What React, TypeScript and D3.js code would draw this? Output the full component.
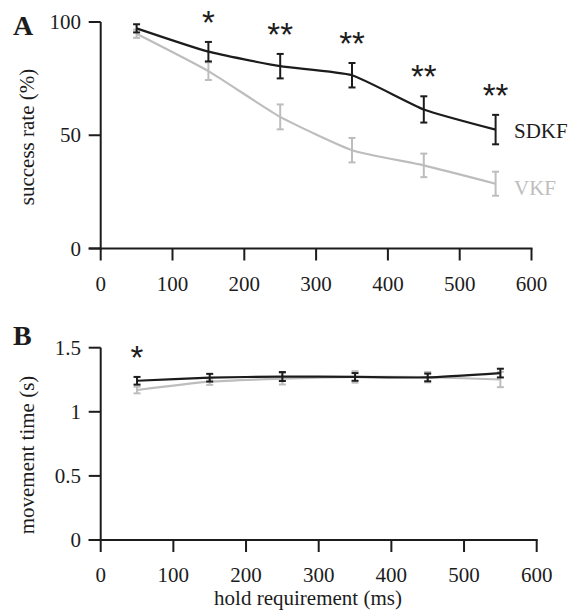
import React from "react";
import * as d3 from "d3";

const holdMs = [50, 150, 250, 350, 450, 550];
const successSDKF = [97.2, 86.9, 80.5, 76.5, 61.4, 52.5];
const successSDKFErr = [1.8, 4.3, 5.4, 5.4, 5.8, 6.5];
const successVKF = [94.8, 78.3, 58.1, 43.4, 36.7, 28.6];
const successVKFErr = [1.8, 3.9, 5.5, 5.4, 5.2, 5.3];
const sigA = ["", "*", "**", "**", "**", "**"];

const moveSDKF = [1.242, 1.266, 1.275, 1.272, 1.268, 1.302];
const moveSDKFErr = [0.03, 0.03, 0.035, 0.03, 0.03, 0.034];
const moveVKF = [1.17, 1.235, 1.258, 1.272, 1.27, 1.252];
const moveVKFErr = [0.026, 0.025, 0.045, 0.045, 0.04, 0.06];
const sigB = ["*", "", "", "", "", ""];

const xTicks = [0, 100, 200, 300, 400, 500, 600];
const yTicksA = [0, 50, 100];
const yTicksB = [0, 0.5, 1, 1.5];
const yTickLabelsB = ["0", "0.5", "1", "1.5"];

const BLACK = "#1c1c1c";
const GRAY = "#bdbdbd";
const SERIF = "'Liberation Serif', 'Times New Roman', serif";
const SANS = "'Liberation Sans', Arial, sans-serif";

type PanelProps = {
  x0: number; x1: number; y0: number; y1: number;
  yDomain: [number, number];
  yTicks: number[]; yLabels: string[];
  sdkf: number[]; sdkfErr: number[]; vkf: number[]; vkfErr: number[];
  sig: string[];
  ylabel: string; ylabelY: number;
  letter: string; letterY: number;
  legend: boolean;
};

function Panel(p: PanelProps) {
  const x = d3.scaleLinear().domain([0, 600]).range([p.x0, p.x1]);
  const y = d3.scaleLinear().domain(p.yDomain).range([p.y0, p.y1]);
  const line = d3.line<number>()
    .x((_, i) => x(holdMs[i]))
    .y((d) => y(d))
    .curve(d3.curveCardinal.tension(0.5));
  const cap = 3.5;
  const series = [
    { v: p.vkf, e: p.vkfErr, c: GRAY },
    { v: p.sdkf, e: p.sdkfErr, c: BLACK },
  ];
  return (
    <g>
      <text x={13} y={p.letterY} fontFamily={SERIF} fontWeight="bold" fontSize={28} fill={BLACK}>{p.letter}</text>
      {series.map((s, si) => (
        <g key={si}>
          <path d={line(s.v) || ""} fill="none" stroke={s.c} strokeWidth={2.2} />
          {s.v.map((v, i) => {
            const cx = x(holdMs[i]);
            const t = y(v + s.e[i]);
            const b = y(v - s.e[i]);
            return (
              <g key={i} stroke={s.c} strokeWidth={2}>
                <line x1={cx} x2={cx} y1={t} y2={b} />
                <line x1={cx - cap} x2={cx + cap} y1={t} y2={t} />
                <line x1={cx - cap} x2={cx + cap} y1={b} y2={b} />
              </g>
            );
          })}
        </g>
      ))}
      {p.sig.map((s, i) =>
        s ? (
          <text key={i} x={x(holdMs[i])} y={y(p.sdkf[i] + p.sdkfErr[i]) - 27 + 19}
            textAnchor="middle" fontFamily={SANS} fontSize={33} fill={BLACK}>{s}</text>
        ) : null
      )}
      <line x1={x(0)} x2={x(0)} y1={p.y1} y2={p.y0 + 1} stroke={BLACK} strokeWidth={2} />
      <line x1={x(0) - 12} x2={x(600) + 1} y1={p.y0} y2={p.y0} stroke={BLACK} strokeWidth={2} />
      {p.yTicks.map((t, i) => (
        <g key={i}>
          <line x1={x(0) - 12} x2={x(0)} y1={y(t)} y2={y(t)} stroke={BLACK} strokeWidth={2} />
          <text x={81} y={y(t) + 7} textAnchor="end" fontFamily={SERIF} fontSize={21} fill={BLACK}>{p.yLabels[i]}</text>
        </g>
      ))}
      {xTicks.map((t) => (
        <g key={t}>
          <line x1={x(t)} x2={x(t)} y1={p.y0} y2={p.y0 + 12} stroke={BLACK} strokeWidth={2} />
          <text x={x(t)} y={p.y0 + 42} textAnchor="middle" fontFamily={SERIF} fontSize={21} fill={BLACK}>{t}</text>
        </g>
      ))}
      <text transform={`translate(34,${p.ylabelY}) rotate(-90)`} textAnchor="middle" fontFamily={SERIF} fontSize={21} fill={BLACK}>{p.ylabel}</text>
      {p.legend && (
        <g>
          <text x={514} y={138} fontFamily={SERIF} fontSize={21} fill={BLACK}>SDKF</text>
          <text x={514} y={195} fontFamily={SERIF} fontSize={21} fill={GRAY}>VKF</text>
        </g>
      )}
    </g>
  );
}

export default function App() {
  return (
    <svg width={569} height={610} style={{ position: "absolute", left: 0, top: 0, background: "#fff" }}>
      <rect width={569} height={610} fill="#fff" />
      <Panel x0={100.7} x1={531.5} y0={248.5} y1={22} yDomain={[0, 100]}
        yTicks={yTicksA} yLabels={yTicksA.map(String)}
        sdkf={successSDKF} sdkfErr={successSDKFErr} vkf={successVKF} vkfErr={successVKFErr}
        sig={sigA} ylabel="success rate (%)" ylabelY={137} letter="A" letterY={35} legend={true} />
      <Panel x0={100.7} x1={536.7} y0={540} y1={347.7} yDomain={[0, 1.5]}
        yTicks={yTicksB} yLabels={yTickLabelsB}
        sdkf={moveSDKF} sdkfErr={moveSDKFErr} vkf={moveVKF} vkfErr={moveVKFErr}
        sig={sigB} ylabel="movement time (s)" ylabelY={455} letter="B" letterY={345} legend={false} />
      <text x={308} y={605} textAnchor="middle" fontFamily={SERIF} fontSize={21} fill={BLACK}>hold requirement (ms)</text>
    </svg>
  );
}
